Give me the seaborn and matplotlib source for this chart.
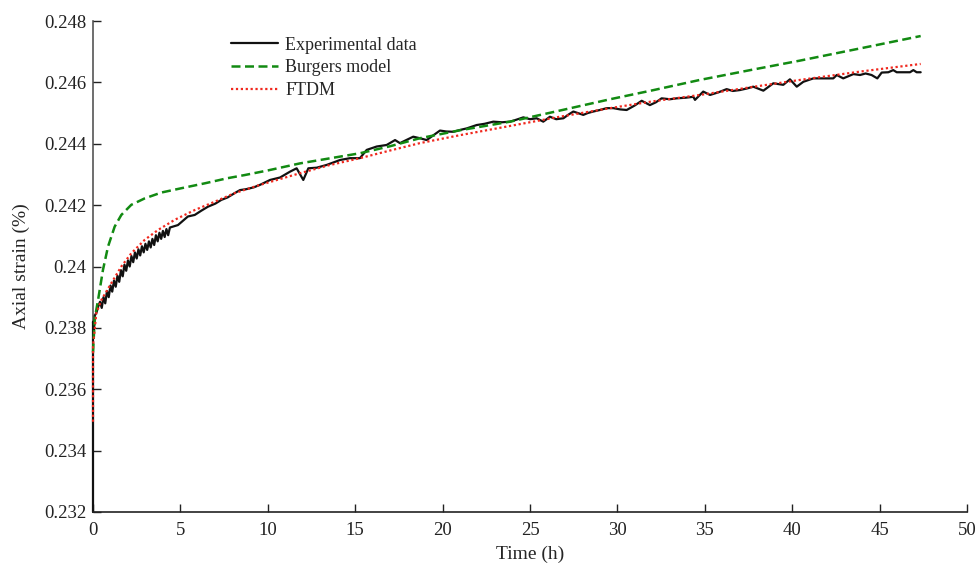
import numpy as np
import pandas as pd
import matplotlib
matplotlib.use("Agg")
import matplotlib.pyplot as plt
import seaborn as sns

# ---------------- data ----------------
exp_t = [0.0, 0.0, 0.05, 0.1, 0.2, 0.3,
         0.4, 0.5, 0.6, 0.7, 0.8, 0.9, 1.0, 1.1, 1.2, 1.3, 1.4, 1.5, 1.6, 1.7,
         1.8, 1.9, 2.0, 2.1, 2.2, 2.3, 2.4, 2.5, 2.6, 2.7, 2.8, 2.9, 3.0, 3.1,
         3.2, 3.3, 3.4, 3.5, 3.6, 3.7, 3.8, 3.9, 4.0, 4.1, 4.2, 4.3, 4.4,
         4.86, 5.43, 5.82, 6.2, 6.58, 7.0, 7.34, 7.7, 8.1, 8.41, 8.77, 9.2, 9.55,
         10.13, 10.7, 11.27, 11.65, 12.03, 12.32, 12.8, 13.37, 13.8, 14.13, 14.7,
         15.27, 15.66, 16.23, 16.8, 17.28, 17.56, 18.32, 18.7, 19.09, 19.85, 20.2,
         20.61, 21.0, 21.38, 21.95, 22.4, 22.9, 23.4, 23.86, 24.2, 24.62, 25.0,
         25.38, 25.76, 26.14, 26.5, 26.91, 27.2, 27.48, 28.05, 28.3, 28.62, 29.0,
         29.39, 29.77, 30.15, 30.53, 31.0, 31.39, 31.86, 32.2, 32.53, 33.0, 33.39,
         33.9, 34.34, 34.44, 34.91, 35.3, 35.8, 36.25, 36.6, 37.01, 37.4, 37.77,
         38.35, 38.92, 39.49, 39.87, 40.26, 40.64, 41.21, 41.8, 42.35, 42.55,
         42.92, 43.5, 43.88, 44.2, 44.54, 44.87, 45.12, 45.5, 45.78, 45.98, 46.4,
         46.74, 46.93, 47.12, 47.35]
exp_strain = [0.2320, 0.2382, 0.2379, 0.2384, 0.2385, 0.2387,
              0.23885, 0.23865, 0.23900, 0.23880, 0.23920, 0.23900, 0.23938,
              0.23918, 0.23954, 0.23934, 0.23970, 0.23950, 0.23988, 0.23968,
              0.24006, 0.23986, 0.24020, 0.24000, 0.24034, 0.24014, 0.24046,
              0.24026, 0.24056, 0.24036, 0.24066, 0.24046, 0.24074, 0.24054,
              0.24082, 0.24062, 0.24090, 0.24070, 0.24102, 0.24082, 0.24110,
              0.24090, 0.24116, 0.24096, 0.24122, 0.24102, 0.24127,
              0.24135, 0.24163, 0.24168, 0.24182, 0.24195, 0.24205, 0.24217,
              0.24225, 0.24239, 0.24249, 0.24252, 0.24258, 0.24266,
              0.24282, 0.24290, 0.24309, 0.24320, 0.24282, 0.24320, 0.24322,
              0.24331, 0.24340, 0.24347, 0.24353,
              0.24353, 0.24380, 0.24391, 0.24396, 0.24412, 0.24402, 0.24423,
              0.24418, 0.24412, 0.24443, 0.24440,
              0.24439, 0.24445, 0.24450, 0.24461, 0.24465, 0.24472, 0.24470,
              0.24472, 0.24478, 0.24486, 0.24480,
              0.24483, 0.24472, 0.24488, 0.24480, 0.24483, 0.24495, 0.24505,
              0.24494, 0.24500, 0.24505, 0.24510,
              0.24516, 0.24516, 0.24512, 0.24510, 0.24525, 0.24540, 0.24526,
              0.24535, 0.24548, 0.24545, 0.24548,
              0.24550, 0.24553, 0.24543, 0.24570, 0.24559, 0.24568, 0.24578,
              0.24572, 0.24575, 0.24580, 0.24586,
              0.24573, 0.24597, 0.24592, 0.24610, 0.24586, 0.24602, 0.24613,
              0.24613, 0.24613, 0.24624,
              0.24613, 0.24627, 0.24624, 0.24629, 0.24624, 0.24613, 0.24632,
              0.24633, 0.24640, 0.24633, 0.24633,
              0.24633, 0.24640, 0.24633, 0.24633]

burgers_t = [0.0, 0.1, 0.29, 0.57, 0.86, 1.24, 1.62, 2.19, 2.96, 3.91, 5.05,
             6.39, 7.72, 8.68, 10.0, 11.84, 13.5, 15.27, 17.0, 18.7, 21.0,
             23.86, 26.7, 29.58, 32.0, 34.72, 37.6, 40.45, 44.0, 47.35]
burgers_strain = [0.2372, 0.2383, 0.23891, 0.23989, 0.24065, 0.24130, 0.24168,
                  0.24201, 0.24222, 0.24241, 0.24255, 0.24271, 0.24288, 0.24298,
                  0.24313, 0.24336, 0.24352, 0.24369, 0.24392, 0.24418, 0.24444,
                  0.24472, 0.24508, 0.24545, 0.24574, 0.24608, 0.24640, 0.24671,
                  0.24712, 0.24751]

ftdm_t = [0.0, 0.0, 0.19, 0.48, 1.05, 1.62, 2.19, 2.96, 3.72, 4.67, 5.82, 6.96,
          8.1, 9.5, 11.84, 13.5, 15.27, 17.0, 18.7, 21.0, 23.86, 26.7, 29.58,
          32.0, 34.72, 37.6, 40.45, 44.0, 47.35]
ftdm_strain = [0.23494, 0.2374, 0.23848, 0.23891, 0.23946, 0.24000, 0.24043,
               0.24087, 0.24119, 0.24152, 0.24184, 0.24211, 0.24239, 0.24265,
               0.24304, 0.24330, 0.24353, 0.24378, 0.24402, 0.24428, 0.24458,
               0.24488, 0.24516, 0.24538, 0.24559, 0.24584, 0.24608, 0.24636,
               0.24660]

series_names = ["Experimental data", "Burgers model", "FTDM"]
x_ticks = [0, 5, 10, 15, 20, 25, 30, 35, 40, 45, 50]
y_ticks = [0.232, 0.234, 0.236, 0.238, 0.240, 0.242, 0.244, 0.246, 0.248]
y_tick_labels = ["0.232", "0.234", "0.236", "0.238", "0.24", "0.242",
                 "0.244", "0.246", "0.248"]

# ---------------- styling ----------------
sns.set_style("ticks")
plt.rcParams["font.family"] = ["Liberation Serif", "DejaVu Serif"]
plt.rcParams["xtick.direction"] = "in"
plt.rcParams["ytick.direction"] = "in"

fig = plt.figure(figsize=(9.76, 5.67), dpi=100)
ax = fig.add_axes([93 / 976, 1 - 512 / 567, 874 / 976, 491 / 567])

df_exp = pd.DataFrame({"t": exp_t, "s": exp_strain})
df_bur = pd.DataFrame({"t": burgers_t, "s": burgers_strain})
df_ftd = pd.DataFrame({"t": ftdm_t, "s": ftdm_strain})

sns.lineplot(data=df_exp, x="t", y="s", ax=ax, estimator=None, sort=False,
             color="#111111", linewidth=1.6, label=series_names[0])
sns.lineplot(data=df_bur, x="t", y="s", ax=ax, estimator=None, sort=False,
             color="#128a12", linewidth=1.8, linestyle=(0, (3.6, 1.8)),
             label=series_names[1])
sns.lineplot(data=df_ftd, x="t", y="s", ax=ax, estimator=None, sort=False,
             color="#f0281e", linewidth=1.6, linestyle=(0, (1, 1.2)),
             label=series_names[2])
for ln in ax.get_lines():
    ln.set_clip_on(False)

ax.set_xlim(0, 50)
ax.set_ylim(0.232, 0.248)
ax.set_xticks(x_ticks)
ax.set_xticklabels([str(v) for v in x_ticks])
ax.set_yticks(y_ticks)
ax.set_yticklabels(y_tick_labels)
ax.tick_params(axis="both", labelsize=13.5, length=6, width=1.0,
               colors="#222222")
ax.tick_params(axis="x", pad=7)
ax.tick_params(axis="y", pad=5)

sns.despine(ax=ax)
ax.spines["left"].set_color("#555555")
ax.spines["bottom"].set_color("#222222")
ax.spines["left"].set_linewidth(1.2)
ax.spines["bottom"].set_linewidth(1.2)
ax.spines["left"].set_zorder(0.5)

ax.set_xlabel("Time (h)", fontsize=14, labelpad=5)
ax.set_ylabel("Axial strain (%)", fontsize=14, labelpad=10)

leg = ax.legend(loc="upper left", bbox_to_anchor=(0.158, 0.968), frameon=False,
                fontsize=13, handlelength=2.6, handletextpad=0.4,
                labelspacing=0.32, borderpad=0, borderaxespad=0)

fig.savefig("out.png", dpi=100)
